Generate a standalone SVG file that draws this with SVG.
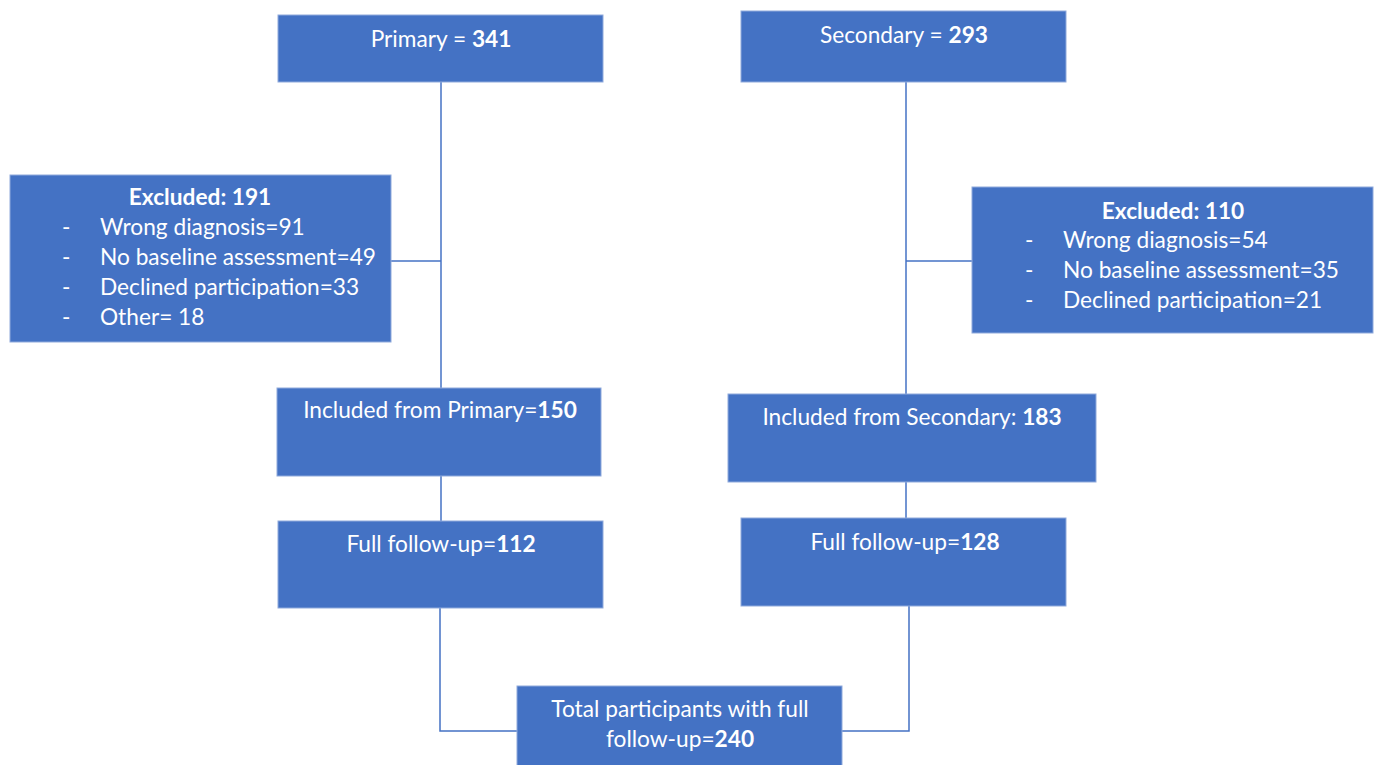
<svg xmlns="http://www.w3.org/2000/svg" width="1378" height="765" viewBox="0 0 1378 765">
<style>
.box{fill:#4472C4;stroke:#8FAADC;stroke-width:1}
.t{font-family:Lato,"Open Sans","Liberation Sans",sans-serif;font-size:22.7px;fill:#fff}
.c{text-anchor:middle}
.b{font-weight:bold}
.ln{stroke:#4472C4;stroke-width:1.5;fill:none}
</style>
<rect width="1378" height="765" fill="#fff"/>
<g id="connectors">
<polyline class="ln" points="441,82 441,388"/>
<polyline class="ln" points="391,261 441,261"/>
<polyline class="ln" points="906,82 906,394"/>
<polyline class="ln" points="906,261 972,261"/>
<polyline class="ln" points="441,476 441,521"/>
<polyline class="ln" points="906,482 906,518"/>
<polyline class="ln" points="440,608 440,731 518,731"/>
<polyline class="ln" points="909,606 909,731 842,731"/>
</g>
<g id="primary">
<rect class="box" x="278" y="15" width="325" height="67"/>
<text class="t c" x="441" y="47">Primary = <tspan class="b">341</tspan></text>
</g>
<g id="secondary">
<rect class="box" x="741" y="11" width="325" height="71"/>
<text class="t c" x="904" y="43">Secondary = <tspan class="b">293</tspan></text>
</g>
<g id="excluded-primary">
<rect class="box" x="10" y="175" width="381" height="167"/>
<text class="t c b" x="200" y="205">Excluded: 191</text>
<text class="t" x="62" y="235">-</text><text class="t" x="100" y="235">Wrong diagnosis=91</text>
<text class="t" x="62" y="265">-</text><text class="t" x="100" y="265">No baseline assessment=49</text>
<text class="t" x="62" y="295">-</text><text class="t" x="100" y="295">Declined participation=33</text>
<text class="t" x="62" y="325">-</text><text class="t" x="100" y="325">Other= 18</text>
</g>
<g id="excluded-secondary">
<rect class="box" x="972" y="187" width="401" height="146"/>
<text class="t c b" x="1173" y="219">Excluded: 110</text>
<text class="t" x="1025" y="248">-</text><text class="t" x="1063" y="248">Wrong diagnosis=54</text>
<text class="t" x="1025" y="278">-</text><text class="t" x="1063" y="278">No baseline assessment=35</text>
<text class="t" x="1025" y="308">-</text><text class="t" x="1063" y="308">Declined participation=21</text>
</g>
<g id="included-primary">
<rect class="box" x="277" y="388" width="324" height="88"/>
<text class="t c" x="440" y="418">Included from Primary=<tspan class="b">150</tspan></text>
</g>
<g id="included-secondary">
<rect class="box" x="728" y="394" width="368" height="88"/>
<text class="t c" x="912" y="425">Included from Secondary: <tspan class="b">183</tspan></text>
</g>
<g id="followup-primary">
<rect class="box" x="278" y="521" width="325" height="87"/>
<text class="t c" x="441" y="552">Full follow-up=<tspan class="b">112</tspan></text>
</g>
<g id="followup-secondary">
<rect class="box" x="741" y="518" width="325" height="88"/>
<text class="t c" x="905" y="550">Full follow-up=<tspan class="b">128</tspan></text>
</g>
<g id="total">
<rect class="box" x="517" y="686" width="325" height="80"/>
<text class="t c" x="680" y="717">Total participants with full</text>
<text class="t c" x="680" y="747">follow-up=<tspan class="b">240</tspan></text>
</g>
</svg>
